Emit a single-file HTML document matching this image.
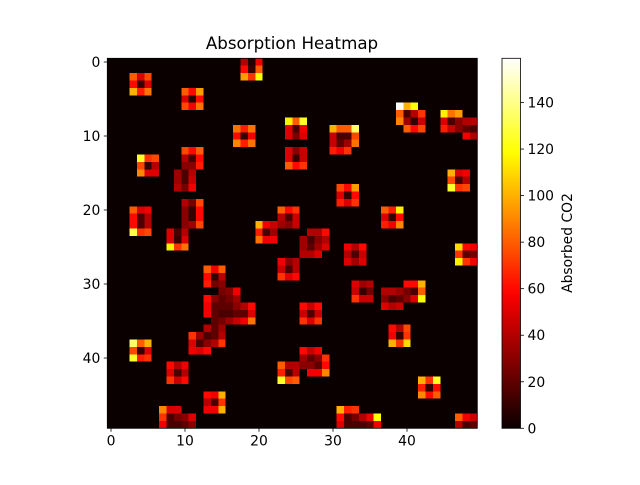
<!DOCTYPE html>
<html><head><meta charset="utf-8"><style>
body{margin:0;background:#fff;}
svg text{font-family:"DejaVu Sans","Liberation Sans",sans-serif;fill:#000;}
</style></head><body>
<svg id="chart" width="640" height="480" viewBox="0 0 640 480" xmlns="http://www.w3.org/2000/svg">
<rect width="640" height="480" fill="#fff"/>
<text x="292" y="49" font-size="16.7" text-anchor="middle">Absorption Heatmap</text>
<g id="cells" shape-rendering="crispEdges"></g><g id="axes"></g><g id="cbar"></g>
</svg>
<script>
const nRows = 50, nCols = 50, vmax = 159;
// segments: [row, startCol, values...]
const segments = [
[0,18,40,5,55],[1,18,60,10,80],[2,18,95,70,120],
[2,3,80,50,75],[3,3,60,10,50],[4,3,100,65,85],
[4,10,80,60,95],[5,10,50,8,60],[6,10,75,55,85],
[6,39,159,100,120],[7,39,80,15,40,70],[8,39,90,35,10,45],[9,40,80,60,75],
[7,45,115,85,95],[8,45,50,15,30,40,40],[9,45,65,45,30,20,15],[10,48,55,38],
[8,24,115,80,125],[9,24,50,15,55],[10,24,50,25,50],
[9,17,85,65,85],[10,17,60,10,55],[11,17,90,65,85],
[9,30,100,80,80,135],[10,30,45,15,15,75],[11,30,45,20,35,85],[12,30,65,55,70],
[12,24,50,30,45],[13,24,50,10,45],[14,24,80,60,70],
[12,10,75,60,80],[13,10,40,15,60],[14,10,30,30,65],
[15,9,35,15,40],[16,9,35,15,45],[17,9,40,25,55],
[13,4,125,70,75],[14,4,75,10,40],[15,4,90,50,50],
[15,46,100,50,55],[16,46,75,15,40],[17,46,125,70,75],
[17,31,75,60,95],[18,31,50,10,60],[19,31,65,50,70],
[19,10,40,25,75],[20,10,30,10,60],[21,10,30,10,60],[22,10,30,35,75],
[20,3,80,50,55],[21,3,60,15,40],[22,3,60,15,40],[23,3,130,70,75],
[23,8,50,15,40],[24,8,50,10,50],[25,8,115,70,85],
[20,23,80,60,70],[21,23,40,15,45],[22,20,100,55,45,35,30,45],[23,20,65,15,35],[24,20,85,55,55],
[20,37,80,65,115],[21,37,50,10,60],[22,37,65,55,90],
[23,27,40,40,60],[24,26,35,15,30,40],[25,26,35,20,35,50],[26,26,40,40,50],
[25,32,55,40,60],[26,32,40,15,45],[27,32,50,35,50],
[25,47,110,60,55],[26,47,70,20,25],[27,47,115,70,55],
[27,23,55,30,40],[28,23,45,15,40],[29,23,70,50,60],
[28,13,80,55,80],[29,13,60,10,40],[30,13,65,25,30],
[31,15,25,30,55],[32,13,60,30,20,25,35],[33,13,55,20,20,20,30,40,60],
[34,13,55,20,15,15,20,20,50],[35,14,20,25,35,45,55,85],[36,13,40,20,35],
[37,11,70,35,15,20,40],[38,11,50,15,30,40,70],[39,11,55,50,60],
[30,33,50,35,40],[31,33,45,10,25],[32,33,70,45,45],
[30,40,60,60,100],[31,37,40,40,35,25,15,80],[32,37,30,15,20,30,50,120],[33,37,50,40,45],
[33,26,60,45,60],[34,26,45,15,45],[35,26,70,50,70],
[36,38,60,40,75],[37,38,55,10,70],[38,38,100,70,110],
[38,3,135,80,100],[39,3,75,10,50],[40,3,125,65,70],
[39,26,60,45,55],[40,26,35,20,30,70],[41,26,30,30,20,60],[42,27,55,55,90],
[41,23,80,40,40],[42,23,65,15,40],[43,23,125,75,80],
[41,8,60,40,55],[42,8,50,15,40],[43,8,70,45,60],
[43,42,100,70,125],[44,42,65,10,60],[45,42,90,60,80],
[45,13,60,55,100],[46,13,40,15,70],[47,13,55,55,100],
[47,7,90,50,50],[48,7,70,15,25,30,50],[49,7,55,15,15,20,30],
[47,31,100,65,70],[48,31,60,15,25,40,55,120],[49,31,50,15,15,15,20,55],
[48,47,80,55,45],[49,47,40,15,20]
];
const xTicks = [0,10,20,30,40];
const yTicks = [0,10,20,30,40];
const cbTicks = [0,20,40,60,80,100,120,140];

const NS="http://www.w3.org/2000/svg";
const X0=107.3, Y0=58.3, CW=7.4, CH=7.4;
const xPos = c => X0 + c*CW;
const yPos = r => Y0 + r*CH;
function hot(v){
  const t=Math.max(0,Math.min(1,v/vmax));
  const cl=x=>Math.max(0,Math.min(1,x));
  const r=cl(0.0416+t/0.365*(1-0.0416)), g=cl((t-0.365)/0.381), b=cl((t-0.746)/0.254);
  return `rgb(${Math.round(r*255)},${Math.round(g*255)},${Math.round(b*255)})`;
}
function mk(tag,attrs,parent){const e=document.createElementNS(NS,tag);for(const k in attrs)e.setAttribute(k,attrs[k]);parent.appendChild(e);return e;}
const grid=[];for(let r=0;r<nRows;r++){grid.push(new Array(nCols).fill(0));}
segments.forEach(s=>{const r=s[0],c=s[1];for(let i=2;i<s.length;i++)grid[r][c+i-2]=s[i];});
const cells=document.getElementById('cells');
const bg=mk('rect',{x:X0,y:Y0,width:nCols*CW,height:nRows*CH,fill:hot(0)},cells);


for(let r=0;r<nRows;r++)for(let c=0;c<nCols;c++){
  if(grid[r][c]===0) continue;
  const e=mk('rect',{x:xPos(c),y:yPos(r),width:CW,height:CH,fill:hot(grid[r][c])},cells);
  
  
}
const ax=document.getElementById('axes');
const frame=mk('rect',{x:X0,y:Y0,width:nCols*CW,height:nRows*CH,fill:'none',stroke:'#000','stroke-width':0.8},ax);


xTicks.forEach(t=>{const x=xPos(t)+CW/2,yb=Y0+nRows*CH;
  mk('line',{x1:x,x2:x,y1:yb,y2:yb+3.5,stroke:'#000','stroke-width':0.8},ax);
  const tx=mk('text',{x:x,y:yb+17,'font-size':13.9,'text-anchor':'middle'},ax);tx.textContent=t;
  
  
});
yTicks.forEach(t=>{const y=yPos(t)+CH/2;
  mk('line',{x1:X0,x2:X0-3.5,y1:y,y2:y,stroke:'#000','stroke-width':0.8},ax);
  const tx=mk('text',{x:X0-7,y:y+5,'font-size':13.9,'text-anchor':'end'},ax);tx.textContent=t;
  
  
});
// colorbar
const cb=document.getElementById('cbar');
const CBX=502,CBW=18.5,CBT=58.3,CBB=428.3;
const defs=mk('defs',{},cb);
const lg=mk('linearGradient',{id:'hotg',x1:0,y1:1,x2:0,y2:0},defs);
for(let i=0;i<=40;i++){mk('stop',{offset:i/40,'stop-color':hot(i/40*vmax)},lg);}
const bar=mk('rect',{x:CBX,y:CBT,width:CBW,height:CBB-CBT,fill:'url(#hotg)',stroke:'#000','stroke-width':0.8},cb);


const cbY=v=>CBB-(v/vmax)*(CBB-CBT);
cbTicks.forEach(t=>{const y=cbY(t);
  mk('line',{x1:CBX+CBW,x2:CBX+CBW+3.5,y1:y,y2:y,stroke:'#000','stroke-width':0.8},cb);
  const tx=mk('text',{x:CBX+CBW+7,y:y+5,'font-size':13.9},cb);tx.textContent=t;
  
  
});
const lab=mk('text',{x:572,y:243,'font-size':13.9,'text-anchor':'middle',transform:'rotate(-90 572 243)'},cb);
lab.textContent='Absorbed CO2';


</script>
</body></html>
